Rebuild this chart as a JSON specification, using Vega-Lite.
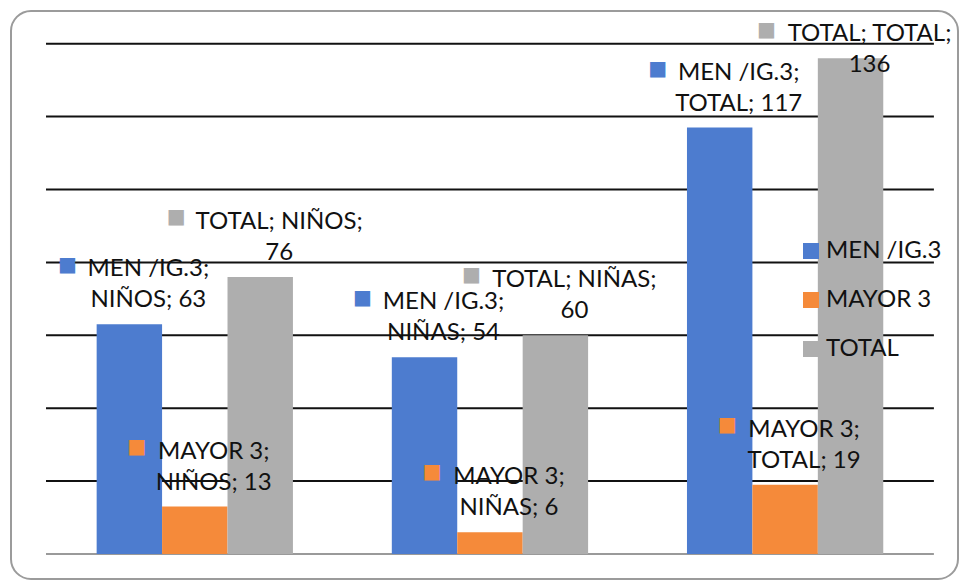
{
  "$schema": "https://vega.github.io/schema/vega-lite/v6.json",
  "width": 947,
  "height": 568,
  "autosize": {"type": "none"},
  "padding": {"left": 11, "top": 11, "right": 2, "bottom": 3},
  "background": "white",
  "config": {
    "view": {"stroke": "#9b9b9b", "strokeWidth": 2, "cornerRadius": 20},
    "text": {"font": "Lato"}
  },
  "datasets": {
    "bars": [
      {"cat": "NIÑOS", "series": "MEN /IG.3", "value": 63},
      {"cat": "NIÑOS", "series": "MAYOR 3", "value": 13},
      {"cat": "NIÑOS", "series": "TOTAL", "value": 76},
      {"cat": "NIÑAS", "series": "MEN /IG.3", "value": 54},
      {"cat": "NIÑAS", "series": "MAYOR 3", "value": 6},
      {"cat": "NIÑAS", "series": "TOTAL", "value": 60},
      {"cat": "TOTAL", "series": "MEN /IG.3", "value": 117},
      {"cat": "TOTAL", "series": "MAYOR 3", "value": 19},
      {"cat": "TOTAL", "series": "TOTAL", "value": 136}
    ],
    "grid": [
      {"g": 0}, {"g": 20}, {"g": 40}, {"g": 60}, {"g": 80}, {"g": 100}, {"g": 120}, {"g": 140}
    ]
  },
  "data": {"name": "bars"},
  "transform": [
    {"calculate": "datum.series == 'TOTAL' ? 'TOTAL; ' + datum.cat + ';\\n' + datum.value : datum.series + ';\\n' + datum.cat + '; ' + datum.value", "as": "label"}
  ],
  "layer": [
    {
      "data": {"name": "grid"},
      "mark": {"type": "rule", "strokeWidth": 2},
      "encoding": {
        "y": {"field": "g", "type": "quantitative", "scale": {"domain": [-6.86, 148.97], "nice": false, "zero": false}, "axis": null},
        "x": {"datum": "NIÑOS", "type": "nominal", "bandPosition": -0.258, "scale": {"domain": ["NIÑOS", "NIÑAS", "TOTAL"], "paddingInner": 0.335, "paddingOuter": 0.2717, "align": 0.534}, "axis": null},
        "x2": {"datum": "TOTAL", "bandPosition": 1.258},
        "color": {"condition": {"test": "datum.g == 0", "value": "#9a9a9a"}, "value": "#111111"}
      }
    },
    {
      "mark": {"type": "bar"},
      "encoding": {
        "x": {"field": "cat", "type": "nominal", "scale": {"domain": ["NIÑOS", "NIÑAS", "TOTAL"], "paddingInner": 0.335, "paddingOuter": 0.2717, "align": 0.534}, "axis": null},
        "xOffset": {"field": "series", "type": "nominal", "scale": {"domain": ["MEN /IG.3", "MAYOR 3", "TOTAL"], "paddingInner": 0, "paddingOuter": 0}},
        "y": {"field": "value", "type": "quantitative", "stack": null, "scale": {"domain": [-6.86, 148.97], "nice": false, "zero": false}, "axis": null},
        "color": {
          "field": "series", "type": "nominal",
          "scale": {"domain": ["MEN /IG.3", "MAYOR 3", "TOTAL"], "range": ["#4D7CCF", "#F58A3A", "#AEAEAE"]},
          "legend": {
            "orient": "none", "legendX": 788, "legendY": 228, "title": null,
            "symbolType": "square", "symbolSize": 256, "symbolStrokeWidth": 0,
            "labelFont": "Lato", "labelFontSize": 24, "labelColor": "#111111",
            "labelOffset": 3, "rowPadding": 25, "padding": 0
          }
        }
      }
    },
    {
      "transform": [{"filter": "!(datum.series == 'TOTAL' && datum.cat == 'TOTAL')"}],
      "mark": {"type": "text", "align": "center", "baseline": "middle", "dx": 19, "dy": -55, "fontSize": 24, "lineBreak": "\n", "lineHeight": 31, "color": "#111111", "font": "Lato"},
      "encoding": {
        "x": {"field": "cat", "type": "nominal"},
        "xOffset": {"field": "series", "type": "nominal"},
        "y": {"field": "value", "type": "quantitative"},
        "text": {"field": "label"}
      }
    },
    {
      "transform": [{"filter": "datum.series == 'TOTAL' && datum.cat == 'TOTAL'"}],
      "mark": {"type": "text", "align": "center", "baseline": "middle", "dx": 19, "dy": -24, "fontSize": 24, "lineBreak": "\n", "lineHeight": 31, "color": "#111111", "font": "Lato"},
      "encoding": {
        "x": {"field": "cat", "type": "nominal"},
        "xOffset": {"field": "series", "type": "nominal"},
        "y": {"field": "value", "type": "quantitative"},
        "text": {"field": "label"}
      }
    },
    {
      "transform": [{"filter": "datum.series == 'MEN /IG.3'"}],
      "mark": {"type": "text", "text": "■", "font": "DejaVu Sans", "fontSize": 20, "align": "center", "baseline": "middle", "dx": -62, "dy": -59, "color": "#4D7CCF"},
      "encoding": {
        "x": {"field": "cat", "type": "nominal"},
        "xOffset": {"field": "series", "type": "nominal"},
        "y": {"field": "value", "type": "quantitative"}
      }
    },
    {
      "transform": [{"filter": "datum.series == 'MAYOR 3'"}],
      "mark": {"type": "text", "text": "■", "font": "DejaVu Sans", "fontSize": 20, "align": "center", "baseline": "middle", "dx": -58, "dy": -60, "color": "#F58A3A"},
      "encoding": {
        "x": {"field": "cat", "type": "nominal"},
        "xOffset": {"field": "series", "type": "nominal"},
        "y": {"field": "value", "type": "quantitative"}
      }
    },
    {
      "transform": [{"filter": "datum.series == 'TOTAL' && datum.cat != 'TOTAL'"}],
      "mark": {"type": "text", "text": "■", "font": "DejaVu Sans", "fontSize": 20, "align": "center", "baseline": "middle", "dx": -84, "dy": -60, "color": "#AEAEAE"},
      "encoding": {
        "x": {"field": "cat", "type": "nominal"},
        "xOffset": {"field": "series", "type": "nominal"},
        "y": {"field": "value", "type": "quantitative"}
      }
    },
    {
      "transform": [{"filter": "datum.series == 'TOTAL' && datum.cat == 'TOTAL'"}],
      "mark": {"type": "text", "text": "■", "font": "DejaVu Sans", "fontSize": 20, "align": "center", "baseline": "middle", "dx": -84, "dy": -28, "color": "#AEAEAE"},
      "encoding": {
        "x": {"field": "cat", "type": "nominal"},
        "xOffset": {"field": "series", "type": "nominal"},
        "y": {"field": "value", "type": "quantitative"}
      }
    }
  ]
}
